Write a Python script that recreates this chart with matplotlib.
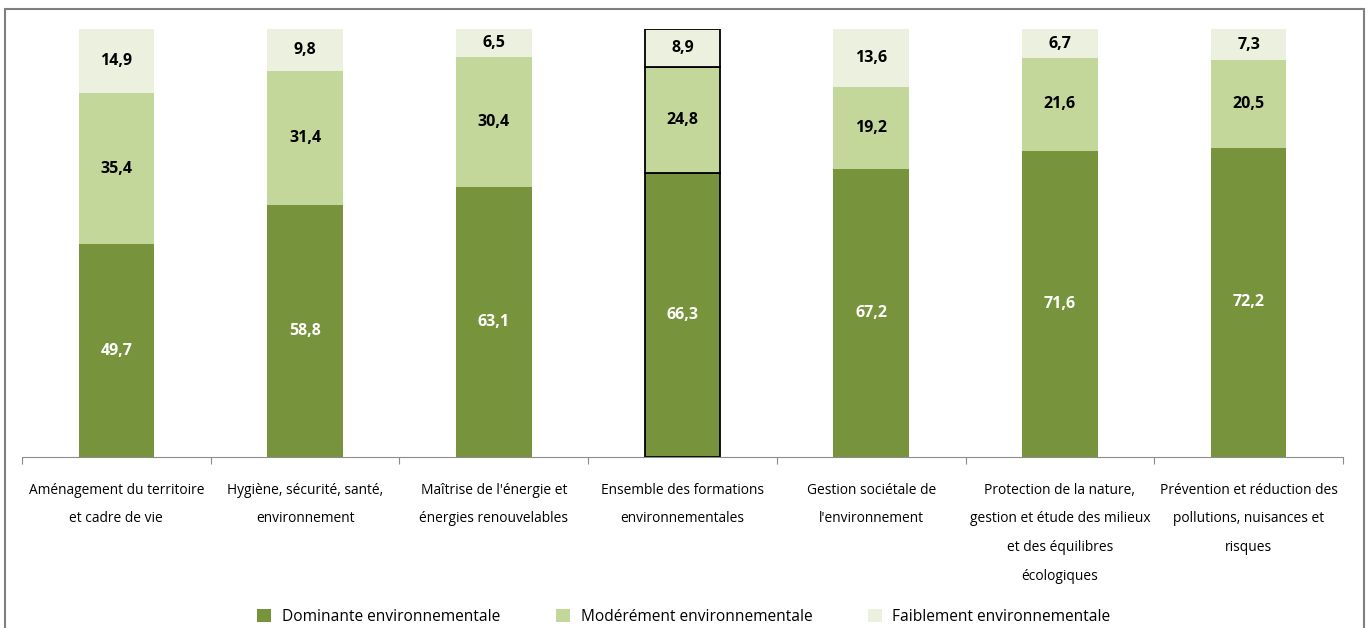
import matplotlib.pyplot as plt
from matplotlib.patches import Rectangle

# ── Data ──────────────────────────────────────────────────────────────────
categories = [
    "Aménagement du territoire\net cadre de vie",
    "Hygiène, sécurité, santé,\nenvironnement",
    "Maîtrise de l'énergie et\nénergies renouvelables",
    "Ensemble des formations\nenvironnementales",
    "Gestion sociétale de\nl'environnement",
    "Protection de la nature,\ngestion et étude des milieux\net des équilibres\nécologiques",
    "Prévention et réduction des\npollutions, nuisances et\nrisques",
]
dominante = [49.7, 58.8, 63.1, 66.3, 67.2, 71.6, 72.2]
moderement = [35.4, 31.4, 30.4, 24.8, 19.2, 21.6, 20.5]
faiblement = [14.9, 9.8, 6.5, 8.9, 13.6, 6.7, 7.3]
series_names = ["Dominante environnementale", "Modérément environnementale",
                "Faiblement environnementale"]
highlight = 3  # "Ensemble" bar, outlined in black

# ── Style ─────────────────────────────────────────────────────────────────
plt.rcParams["font.family"] = ["Open Sans", "DejaVu Sans"]
colors = ["#77933C", "#C4D79B", "#EBF1DE"]
txt_colors = ["white", "black", "black"]

fig = plt.figure(figsize=(13.68, 6.28), dpi=100)
ax = fig.add_axes([22 / 1368, 1 - 457 / 628, (1343 - 22) / 1368, (457 - 29) / 628])

x = range(len(categories))
bottom = [0] * len(categories)
handles = []
for vals, col, tcol, name in zip([dominante, moderement, faiblement], colors, txt_colors, series_names):
    bars = ax.bar(x, vals, bottom=bottom, width=0.4, color=col, label=name, linewidth=0)
    handles.append(bars)
    for i, (b, v) in enumerate(zip(bottom, vals)):
        ax.text(i, b + v / 2, f"{v:.1f}".replace(".", ","), ha="center", va="center",
                fontsize=11.5, fontweight="bold", color=tcol)
        if i == highlight:
            bars[i].set_edgecolor("black")
            bars[i].set_linewidth(1.3)
    bottom = [b + v for b, v in zip(bottom, vals)]

ax.set_xlim(-0.5, len(categories) - 0.5)
ax.set_ylim(0, 100)
ax.set_yticks([])
for s in ["top", "right", "left"]:
    ax.spines[s].set_visible(False)
ax.spines["bottom"].set_color("#8c8c8c")
ax.set_xticks([i - 0.5 for i in range(len(categories) + 1)])
ax.set_xticklabels([])
ax.tick_params(axis="x", length=5, color="#8c8c8c")
for i, c in enumerate(categories):
    ax.text(i, -6.0, c, ha="center", va="top", fontsize=9.9, linespacing=2.24)

fig.legend(handles=handles, labels=series_names, loc="center", ncol=3,
           bbox_to_anchor=(0.5, 1 - 617 / 628), frameon=False, fontsize=11.2,
           handlelength=0.9, handleheight=0.9, columnspacing=3.55, handletextpad=0.7)

# outer frame
fig.patches.append(Rectangle((5 / 1368, -0.05), (1364 - 5) / 1368, 1.05 - 9 / 628,
                             transform=fig.transFigure, fill=False,
                             edgecolor="#7f7f7f", linewidth=1.5))

fig.savefig("out.png", dpi=100)
